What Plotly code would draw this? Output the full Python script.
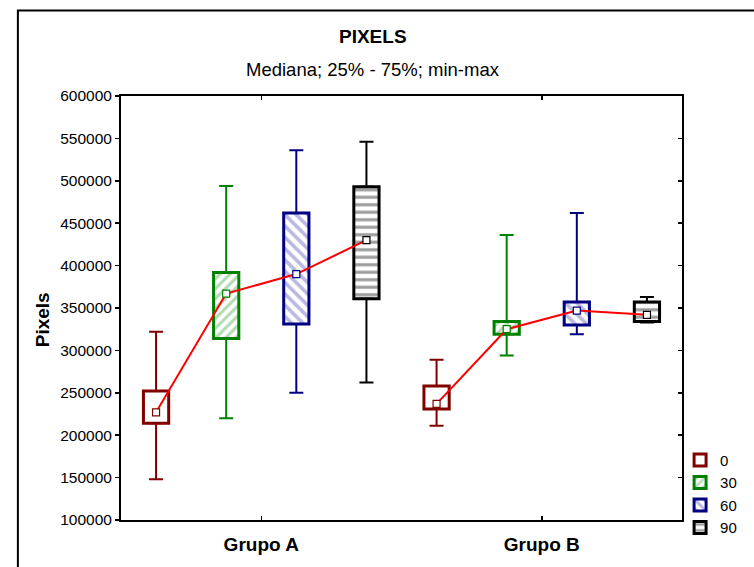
import plotly.graph_objects as go

# ---- data ----
groups = ["Grupo A", "Grupo B"]
series = ["0", "30", "60", "90"]
mins    = {"0": [148000, 211000], "30": [220000, 294000], "60": [250000, 319000], "90": [262000, 333000]}
q1s     = {"0": [214000, 231000], "30": [314000, 319000], "60": [331000, 330000], "90": [361000, 334000]}
medians = {"0": [227000, 237000], "30": [367000, 325000], "60": [390000, 347000], "90": [430000, 342000]}
q3s     = {"0": [252000, 258000], "30": [392000, 334000], "60": [462000, 357000], "90": [493000, 357000]}
maxs    = {"0": [322000, 289000], "30": [494000, 436000], "60": [536000, 462000], "90": [546000, 363000]}
y_ticks = [100000, 150000, 200000, 250000, 300000, 350000, 400000, 450000, 500000, 550000, 600000]

# ---- styles ----
FONT = "Liberation Sans, Arial, sans-serif"
offsets = {"0": -0.375, "30": -0.125, "60": 0.125, "90": 0.375}
colors = {"0": "#800000", "30": "#008000", "60": "#000080", "90": "#000000"}
patterns = {
    "0": dict(shape="", bgcolor="white"),
    "30": dict(shape="/", fgcolor="#6cb86c", bgcolor="white", size=7, solidity=0.45),
    "60": dict(shape="\\", fgcolor="#7373c4", bgcolor="white", size=8, solidity=0.45),
    "90": dict(shape="-", fgcolor="#3c3c3c", bgcolor="white", size=7.5, solidity=0.42),
}

fig = go.Figure()
xs = {s: [g + offsets[s] for g in range(len(groups))] for s in series}

for s in series:
    fig.add_trace(go.Bar(
        x=xs[s], base=q1s[s], y=[b - a for a, b in zip(q1s[s], q3s[s])],
        width=0.09, name=s,
        marker=dict(color="white", line=dict(color=colors[s], width=3), pattern=patterns[s]),
        hoverinfo="skip",
    ))

for s in series:
    # upper whisker
    fig.add_trace(go.Scatter(
        x=xs[s], y=q3s[s], mode="markers", marker=dict(size=1, opacity=0),
        error_y=dict(type="data", symmetric=False,
                     array=[b - a for a, b in zip(q3s[s], maxs[s])], arrayminus=[0, 0],
                     color=colors[s], thickness=2, width=7),
        showlegend=False, hoverinfo="skip"))
    # lower whisker
    fig.add_trace(go.Scatter(
        x=xs[s], y=q1s[s], mode="markers", marker=dict(size=1, opacity=0),
        error_y=dict(type="data", symmetric=False,
                     array=[0, 0], arrayminus=[a - b for a, b in zip(q1s[s], mins[s])],
                     color=colors[s], thickness=2, width=7),
        showlegend=False, hoverinfo="skip"))

# red median lines per group
for gi in range(len(groups)):
    fig.add_trace(go.Scatter(
        x=[xs[s][gi] for s in series], y=[medians[s][gi] for s in series],
        mode="lines", line=dict(color="#ff0000", width=2),
        showlegend=False, hoverinfo="skip"))

for s in series:
    fig.add_trace(go.Scatter(
        x=xs[s], y=medians[s], mode="markers",
        marker=dict(symbol="square", size=7, color="white", line=dict(color=colors[s], width=1.2)),
        showlegend=False, hoverinfo="skip"))

# dummy trace for the right-hand axis
fig.add_trace(go.Scatter(x=[None], y=[None], yaxis="y2", showlegend=False, hoverinfo="skip"))

fig.update_layout(
    width=754, height=567,
    margin=dict(l=121, r=51, t=96, b=40),
    paper_bgcolor="white", plot_bgcolor="white",
    barmode="overlay",
    font=dict(family=FONT, color="black", size=15),
    xaxis=dict(range=[-0.5, 1.5], tickvals=[0, 1], ticktext=groups,
               tickfont=dict(size=19, family=FONT, color="black", weight="bold"),
               ticks="inside", ticklen=4, tickwidth=1.5, tickcolor="black",
               showline=True, linecolor="black", linewidth=2, mirror="ticks",
               showgrid=False, zeroline=False, ticklabelstandoff=6),
    yaxis=dict(range=[100000, 600000], tickvals=y_ticks, ticktext=[str(v) for v in y_ticks],
               tickfont=dict(size=15.5, family=FONT, color="black"),
               ticks="outside", ticklen=4, tickwidth=1.5, tickcolor="black",
               showline=True, linecolor="black", linewidth=2, mirror=True,
               showgrid=False, zeroline=False),
    yaxis2=dict(range=[100000, 600000], overlaying="y", side="right", tickvals=y_ticks,
                showticklabels=False, ticks="inside", ticklen=4, tickwidth=1.5, tickcolor="black",
                showline=True, linecolor="black", linewidth=2, showgrid=False, zeroline=False),
    legend=dict(x=0.9966, xanchor="left", y=0.18, yanchor="top",
                bgcolor="rgba(0,0,0,0)", font=dict(size=15, family=FONT, color="black"),
                traceorder="normal", itemclick=False),
    showlegend=True,
    shapes=[dict(type="rect", xref="paper", yref="paper",
                 x0=-0.1838, x1=1.3, y0=-0.3, y1=1.2019,
                 line=dict(color="black", width=2), fillcolor="rgba(0,0,0,0)", layer="below")],
    annotations=[
        dict(text="<b>PIXELS</b>", xref="paper", yref="paper", x=0.4485, y=1.1392,
             xanchor="center", yanchor="middle", showarrow=False, font=dict(size=19, family=FONT)),
        dict(text="Mediana; 25% - 75%; min-max", xref="paper", yref="paper", x=0.4485, y=1.0626,
             xanchor="center", yanchor="middle", showarrow=False, font=dict(size=18.5, family=FONT)),
        dict(text="<b>Pixels</b>", xref="paper", yref="paper", x=-0.1409, y=0.4733,
             xanchor="center", yanchor="middle", textangle=-90, showarrow=False,
             font=dict(size=19, family=FONT)),
    ],
)

fig.write_html("out.html",
               config={"displayModeBar": False, "staticPlot": True},
               post_script="document.body.style.margin='0';document.body.style.overflow='hidden';")
